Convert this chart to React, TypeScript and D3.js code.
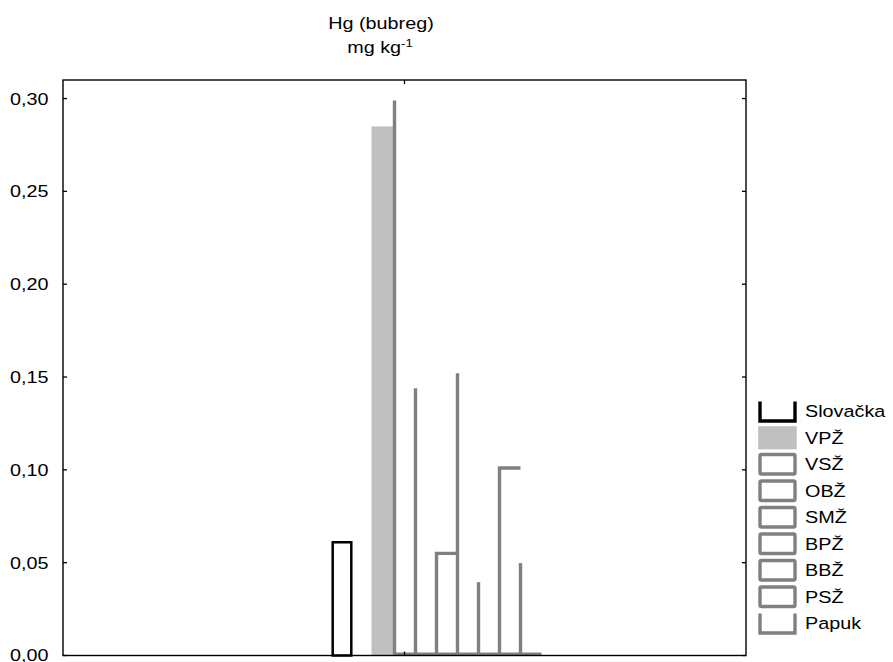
import React from "react";
import * as d3 from "d3";

// ---- data ----
const categories = ["Hg (bubreg)"];
const seriesNames = ["Slovačka", "VPŽ", "VSŽ", "OBŽ", "SMŽ", "BPŽ", "BBŽ", "PSŽ", "Papuk"];
const seriesValues = [0.061, 0.285, 0.299, 0.144, 0.055, 0.152, 0.0395, 0.101, 0.0498];
// bar slots along the category (one empty slot after Slovačka)
const barSlots = ["Slovačka", "(prazno)", "VPŽ", "VSŽ", "OBŽ", "SMŽ", "BPŽ", "BBŽ", "PSŽ", "Papuk"];
// series whose bar tops are visible in the source rendering
const visibleTops = ["SMŽ", "PSŽ"];
// legend items drawn as open (no top) boxes
const openLegend = ["Slovačka", "Papuk"];
const yTicks = [0, 0.05, 0.1, 0.15, 0.2, 0.25, 0.3];

// ---- styles ----
const GRAY = "#808080";
const LIGHT = "#c0c0c0";
const FONT = "'Liberation Sans', Arial, sans-serif";
const FS = 16.5;
const SX = 1.2; // horizontal stretch of the source's text
const kind: Record<string, "black" | "fill" | "gray"> = {
  "Slovačka": "black",
  "VPŽ": "fill",
};

const W = 893;
const H = 662;
const plot = { left: 63, right: 746, top: 80, bottom: 655.5 };

const fmt = d3.formatLocale({ decimal: ",", thousands: ".", grouping: [3], currency: ["", ""] }).format(".2f");

function T({ x, y, anchor = "start", size = FS, children, dy }: any) {
  return (
    <g transform={`translate(${x},${y}) scale(${SX},1)`}>
      <text x={0} y={0} dy={dy} textAnchor={anchor} fontSize={size} fill="#000">
        {children}
      </text>
    </g>
  );
}

export default function App() {
  const y = d3.scaleLinear().domain([0, 0.31]).range([plot.bottom, plot.top]);
  const xCat = d3.scaleBand().domain(categories).range([plot.left, plot.right]);
  const catCenter = (xCat(categories[0]) as number) + xCat.bandwidth() / 2;
  const x = d3.scaleBand().domain(barSlots).range([catCenter - 73, catCenter + 137]);
  const bw = x.bandwidth();
  const y0 = y(0);

  const legendY = d3.scaleBand().domain(seriesNames).range([398, 636.5]);

  const grayNames = seriesNames.filter((n) => !kind[n]);
  const firstGray = x(grayNames[0]) as number;
  const lastGray = (x(grayNames[grayNames.length - 1]) as number) + bw;

  return (
    <svg width={W} height={H} style={{ position: "absolute", left: 0, top: 0, background: "#fff" }} fontFamily={FONT}>
      <rect width={W} height={H} fill="#fff" />
      {/* title */}
      <T x={381} y={29} anchor="middle">{categories[0]}</T>
      <T x={380} y={53} anchor="middle">
        mg kg<tspan dy={-6} fontSize={11}>-1</tspan>
      </T>

      {/* bars */}
      {seriesNames.map((name, i) => {
        const v = seriesValues[i];
        const xl = x(name) as number;
        const k = kind[name];
        if (k === "black") {
          return (
            <rect key={name} x={xl + 1.2} y={y(v)} width={bw - 2.4} height={y0 - y(v)} fill="#fff" stroke="#000" strokeWidth={2.5} />
          );
        }
        if (k === "fill") {
          return <rect key={name} x={xl - 2} y={y(v)} width={bw + 2} height={y0 - y(v)} fill={LIGHT} />;
        }
        const d = `M${xl},${y0} V${y(v)}` + (visibleTops.includes(name) ? ` H${xl + bw}` : "");
        return <path key={name} d={d} fill="none" stroke={GRAY} strokeWidth={3.4} strokeLinejoin="miter" />;
      })}
      <line x1={firstGray} x2={lastGray} y1={y0 - 1.6} y2={y0 - 1.6} stroke={GRAY} strokeWidth={3} />

      {/* frame */}
      <rect x={plot.left} y={plot.top} width={plot.right - plot.left} height={plot.bottom - plot.top} fill="none" stroke="#000" strokeWidth={1.4} />
      {yTicks.map((t) => (
        <g key={t}>
          <line x1={plot.left} x2={plot.left + 4} y1={y(t)} y2={y(t)} stroke="#000" strokeWidth={1.3} />
          <line x1={plot.right - 4} x2={plot.right} y1={y(t)} y2={y(t)} stroke="#000" strokeWidth={1.3} />
          <T x={48.5} y={y(t)} dy="0.36em" anchor="end">{fmt(t)}</T>
        </g>
      ))}
      <line x1={catCenter} x2={catCenter} y1={plot.top} y2={plot.top + 4} stroke="#000" strokeWidth={1.3} />
      <line x1={catCenter} x2={catCenter} y1={plot.bottom - 4} y2={plot.bottom} stroke="#000" strokeWidth={1.3} />

      {/* legend */}
      {seriesNames.map((name) => {
        const cy = (legendY(name) as number) + legendY.bandwidth() / 2;
        const bx = 760;
        const bwL = 35;
        const bh = 19.5;
        const top = cy - bh / 2;
        const k = kind[name];
        let sym;
        if (k === "fill") {
          sym = <rect x={bx - 1.8} y={top - 1.8} width={bwL + 3.6} height={bh + 3.6} fill={LIGHT} />;
        } else {
          const col = k === "black" ? "#000" : GRAY;
          if (openLegend.includes(name)) {
            sym = <path d={`M${bx},${top} V${top + bh} H${bx + bwL} V${top}`} fill="none" stroke={col} strokeWidth={3.4} />;
          } else {
            sym = <rect x={bx} y={top} width={bwL} height={bh} rx={1.5} fill="#fff" stroke={col} strokeWidth={3.4} />;
          }
        }
        return (
          <g key={name}>
            {sym}
            <T x={805} y={cy} dy="0.36em">{name}</T>
          </g>
        );
      })}
    </svg>
  );
}
